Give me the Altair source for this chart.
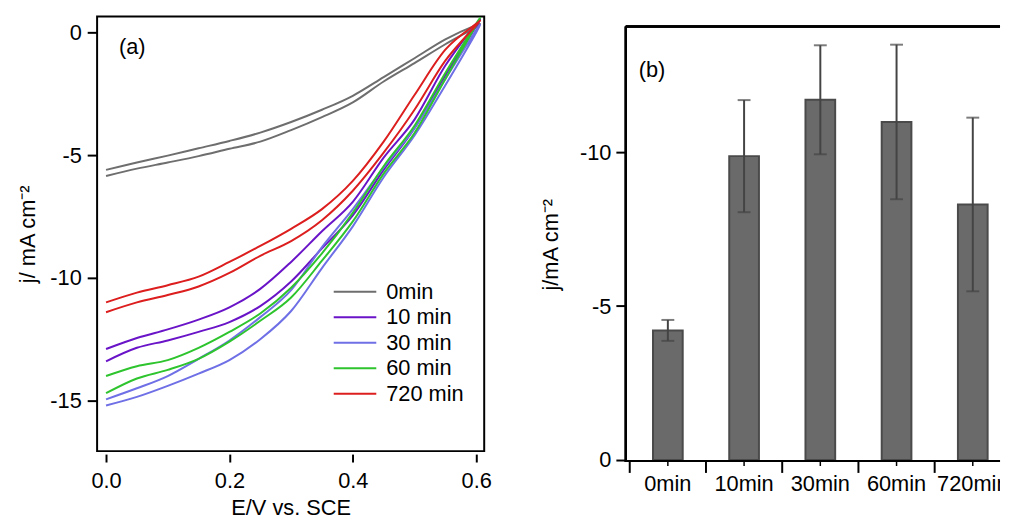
import altair as alt
import pandas as pd

FONT = "Liberation Sans"

# ---------------- panel (a) data ----------------
E = [0.0, 0.05, 0.1, 0.15, 0.2, 0.25, 0.3, 0.35, 0.4, 0.45, 0.5, 0.55, 0.6]
series_names = ["0min", "10 min", "30 min", "60 min", "720 min"]
series_colors = ["#6e6e6e", "#6a14c8", "#6f6fe6", "#2ec42e", "#dc1e1e"]

# forward sweep (lower branch)
j_fwd_0 = [-5.85, -5.55, -5.3, -5.04, -4.74, -4.45, -3.98, -3.45, -2.85, -2.0, -1.25, -0.48, 0.22]
j_fwd_10 = [-13.4, -12.85, -12.55, -12.2, -11.8, -11.15, -10.15, -8.8, -7.45, -5.6, -3.9, -1.75, 0.25]
j_fwd_30 = [-15.2, -14.85, -14.4, -13.9, -13.35, -12.5, -11.35, -9.6, -7.9, -5.9, -4.2, -2.15, 0.0]
j_fwd_60 = [-14.7, -14.1, -13.75, -13.3, -12.6, -11.75, -10.8, -9.3, -7.7, -5.75, -4.1, -1.9, 0.3]
j_fwd_720 = [-11.4, -11.0, -10.7, -10.35, -9.8, -9.1, -8.5, -7.65, -6.45, -4.9, -3.15, -1.15, 0.3]
# reverse sweep (upper branch)
j_rev_0 = [-5.6, -5.3, -5.02, -4.72, -4.42, -4.08, -3.65, -3.15, -2.58, -1.82, -1.05, -0.28, 0.3]
j_rev_10 = [-12.9, -12.45, -12.1, -11.7, -11.2, -10.45, -9.35, -8.1, -6.9, -5.1, -3.55, -1.35, 0.35]
j_rev_30 = [-14.95, -14.5, -14.0, -13.3, -12.55, -11.6, -10.5, -8.75, -7.2, -5.5, -3.9, -1.9, 0.1]
j_rev_60 = [-14.0, -13.6, -13.35, -12.85, -12.2, -11.45, -10.4, -9.0, -7.35, -5.45, -3.8, -1.65, 0.35]
j_rev_720 = [-11.0, -10.6, -10.3, -9.95, -9.35, -8.7, -8.0, -7.2, -6.05, -4.45, -2.55, -0.7, 0.35]

fwd = [j_fwd_0, j_fwd_10, j_fwd_30, j_fwd_60, j_fwd_720]
rev = [j_rev_0, j_rev_10, j_rev_30, j_rev_60, j_rev_720]

rows = []
for name, f, r in zip(series_names, fwd, rev):
    k = 0
    for e, j in zip(E, f):
        rows.append({"series": name, "E": e, "j": j, "idx": k})
        k += 1
    for e, j in zip(reversed(E), reversed(r)):
        rows.append({"series": name, "E": e, "j": j, "idx": k})
        k += 1
df_lines = pd.DataFrame(rows)
df_leg = pd.DataFrame({"series": series_names})

# ---------------- panel (b) data ----------------
cats = ["0min", "10min", "30min", "60min", "720min"]
vals = [-4.21, -9.87, -11.7, -10.98, -8.3]
errs = [0.34, 1.82, 1.77, 2.51, 2.82]
df_bars = pd.DataFrame({"cat": cats, "val": vals, "err": errs})
df_bars["lo"] = df_bars["val"] + df_bars["err"]
df_bars["hi"] = df_bars["val"] - df_bars["err"]

LW, LH = 391, 439
RW, RH = 378, 486

neg_label = "datum.value < 0 ? '-' + format(-datum.value, 'd') : format(datum.value, 'd')"
color_scale = alt.Scale(domain=series_names, range=series_colors)

lines = alt.Chart(df_lines).mark_line(strokeWidth=2, clip=True, interpolate="cardinal").encode(
    x=alt.X("E:Q", scale=alt.Scale(domain=[-0.0145, 0.613], nice=False, zero=False),
            axis=alt.Axis(values=[0.0, 0.2, 0.4, 0.6], format=".1f", title="E/V vs. SCE",
                          offset=3, domain=False, tickSize=8, labelPadding=9, titlePadding=6,
                          grid=False)),
    y=alt.Y("j:Q", scale=alt.Scale(domain=[-17.06, 0.65], nice=False, zero=False),
            axis=alt.Axis(values=[0, -5, -10, -15], labelExpr=neg_label, title="j/ mA cm⁻²",
                          domain=False, tickSize=10, labelPadding=6, titlePadding=10, grid=False)),
    color=alt.Color("series:N", scale=color_scale, legend=None),
    order=alt.Order("idx:Q"),
)

leg_y = alt.Y("series:N", scale=alt.Scale(type="point", domain=series_names, range=[278, 381], padding=0),
              axis=None)
leg_rules = alt.Chart(df_leg).mark_rule(strokeWidth=2).encode(
    x=alt.value(239), x2=alt.value(282), y=leg_y,
    color=alt.Color("series:N", scale=color_scale, legend=None),
)
leg_text = alt.Chart(df_leg).mark_text(align="left", baseline="middle", fontSize=22, font=FONT,
                                       color="black").encode(x=alt.value(292), y=leg_y, text="series:N")
label_a = alt.Chart(pd.DataFrame({"t": ["(a)"]})).mark_text(
    align="left", baseline="middle", fontSize=22, font=FONT, color="black"
).encode(x=alt.value(22), y=alt.value(31), text="t:N")

left = alt.layer(lines, label_a, leg_rules, leg_text).resolve_scale(y="independent").properties(
    width=LW, height=LH, view=alt.ViewBackground(stroke="black", strokeWidth=2))

# ---------------- panel (b) ----------------
xsc = alt.Scale(domain=cats, range=[4, 389], paddingInner=0, paddingOuter=0)
ysc = alt.Scale(domain=[1.222, -14.405], nice=False, zero=False)
base = alt.Chart(df_bars)

bars = base.mark_bar(width=30, fill="#6a6a6a", stroke="#4a4a4a", strokeWidth=2).encode(
    x=alt.X("cat:N", sort=cats, scale=xsc, axis=None),
    y=alt.Y("val:Q", scale=ysc,
            axis=alt.Axis(values=[0, -5, -10], labelExpr=neg_label, title="j/mA cm⁻²", titleY=230,
                          domain=False, tickSize=10, labelPadding=5, titlePadding=17, grid=False)),
    y2=alt.datum(0),
)
err_rule = base.mark_rule(color="#444444", strokeWidth=2).encode(
    x=alt.X("cat:N", sort=cats, scale=xsc, axis=None), y=alt.Y("lo:Q", scale=ysc), y2="hi:Q")
cap_lo = base.mark_tick(color="#444444", thickness=2, size=13).encode(
    x=alt.X("cat:N", sort=cats, scale=xsc, axis=None), y=alt.Y("lo:Q", scale=ysc))
cap_hi = base.mark_tick(color="#444444", thickness=2, size=13).encode(
    x=alt.X("cat:N", sort=cats, scale=xsc, axis=None), y=alt.Y("hi:Q", scale=ysc))

frame_top = base.mark_rule(color="black", strokeWidth=2).encode(
    x=alt.value(0), x2=alt.value(RW), y=alt.value(10))
frame_left = base.mark_rule(color="black", strokeWidth=2).encode(
    x=alt.value(0), y=alt.value(10), y2=alt.value(450))
x_line = base.mark_rule(color="black", strokeWidth=2).encode(
    x=alt.value(0), x2=alt.value(RW), y=alt.value(449))
x_ticks = base.mark_rule(color="black", strokeWidth=2).encode(
    x=alt.X("cat:N", sort=cats, scale=xsc, axis=None, bandPosition=0),
    y=alt.value(449), y2=alt.value(461))
minor = base.mark_rule(color="black", strokeWidth=1.5).encode(
    x=alt.X("cat:N", sort=cats, scale=xsc, axis=None), y=alt.value(449), y2=alt.value(454))
x_labels = base.mark_text(fontSize=22, font=FONT, color="black", baseline="middle", clip=True).encode(
    x=alt.X("cat:N", sort=cats, scale=xsc, axis=None), y=alt.value(472), text="cat:N")

label_b = alt.Chart(pd.DataFrame({"t": ["(b)"]})).mark_text(
    align="left", baseline="middle", fontSize=22, font=FONT, color="black"
).encode(x=alt.value(13), y=alt.value(54), text="t:N")

right = alt.layer(bars, err_rule, cap_lo, cap_hi, frame_top, frame_left, x_line, x_ticks, minor,
                  x_labels, label_b).properties(
    width=RW, height=RH, view=alt.ViewBackground(stroke="transparent", strokeWidth=0))

chart = alt.hconcat(left, right, spacing=47).properties(
    padding={"left": 8, "top": 5, "right": 0, "bottom": 0}
).configure_axis(
    labelFont=FONT, titleFont=FONT, labelFontSize=22, titleFontSize=22, titleFontWeight="normal",
    labelColor="black", titleColor="black", tickColor="black", tickWidth=2,
)

chart.save("out.html", embed_options={"renderer": "svg", "actions": False})
